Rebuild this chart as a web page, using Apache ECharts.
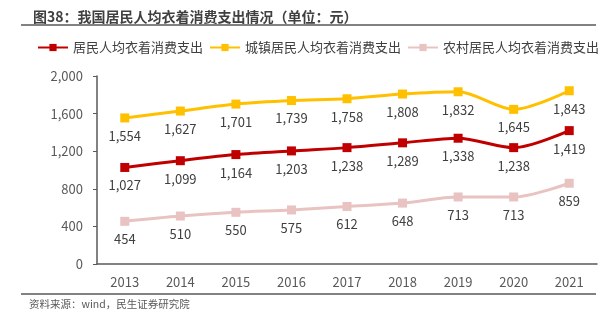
<!DOCTYPE html>
<html><head><meta charset="utf-8">
<script src="https://cdn.jsdelivr.net/npm/echarts@6/dist/echarts.min.js"></script>
<style>html,body{margin:0;padding:0;background:#fff}#c{width:609px;height:322px}</style>
</head><body><div id="c"></div>
<script>
var categories = ['2013','2014','2015','2016','2017','2018','2019','2020','2021'];
var allResidents = [1027,1099,1164,1203,1238,1289,1338,1238,1419];
var urban = [1554,1627,1701,1739,1758,1808,1832,1645,1843];
var rural = [454,510,550,575,612,648,713,713,859];
var seriesNames = ['居民人均衣着消费支出','城镇居民人均衣着消费支出','农村居民人均衣着消费支出'];
var yTicks = [0,400,800,1200,1600,2000];

var font = '"Noto Sans CJK SC", "Microsoft YaHei", sans-serif';
var fmt = function(v){ return String(v).replace(/\B(?=(\d{3})+(?!\d))/g, ','); };
var chart = echarts.init(document.getElementById('c'));
function mk(name, data, color){
  return {
    name: name, type: 'line', data: data, smooth: 0.3,
    symbol: 'rect', symbolSize: 9,
    lineStyle: {width: 3, color: color},
    itemStyle: {color: color},
    label: {show: true, position: 'bottom', distance: 7, color: '#404040', fontSize: 13, fontFamily: font,
      formatter: function(p){ return fmt(p.value); }}
  };
}
chart.setOption({
  animation: false,
  textStyle: {fontFamily: font},
  title: {text: '图38：我国居民人均衣着消费支出情况（单位：元）', left: 28, top: 5,
    textStyle: {fontSize: 14, fontWeight: 'bold', color: '#404040', fontFamily: font}},
  graphic: [
    {type: 'line', shape: {x1: 21, y1: 25, x2: 596, y2: 25}, style: {stroke: '#595959', lineWidth: 1.5}},
    {type: 'line', shape: {x1: 21, y1: 294, x2: 596, y2: 294}, style: {stroke: '#595959', lineWidth: 1.5}},
    {type: 'text', left: 29, top: 299, style: {text: '资料来源：wind，民生证券研究院', fill: '#595959', fontSize: 10.5, fontFamily: font}}
  ],
  legend: {top: 36, left: 32, itemGap: 6, itemWidth: 30, itemHeight: 9,
    textStyle: {fontSize: 13, color: '#404040', fontFamily: font},
    data: seriesNames},
  grid: {left: 97, right: 12, top: 76, bottom: 58},
  xAxis: {type: 'category', data: categories, boundaryGap: true,
    axisLine: {lineStyle: {color: '#595959', width: 1.5}},
    axisTick: {show: false},
    axisLabel: {color: '#595959', fontSize: 13, margin: 12, fontFamily: font}},
  yAxis: {type: 'value', min: yTicks[0], max: yTicks[yTicks.length-1], interval: 400,
    axisLine: {show: true, lineStyle: {color: '#595959', width: 1.5}},
    axisTick: {show: true, length: 4, lineStyle: {color: '#595959'}},
    splitLine: {show: false},
    axisLabel: {color: '#595959', fontSize: 13, margin: 14, fontFamily: font, formatter: fmt}},
  series: [
    mk(seriesNames[0], allResidents, '#C00000'),
    mk(seriesNames[1], urban, '#FFC000'),
    mk(seriesNames[2], rural, '#E9C2C2')
  ]
});
</script></body></html>
